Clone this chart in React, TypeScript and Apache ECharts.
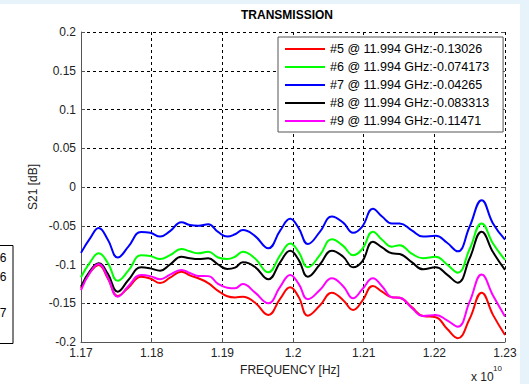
import React, { useEffect, useRef } from "react";
import * as echarts from "echarts";

// Frequency points (x 10^10 Hz)
const freqs = [
  1.17, 1.1713, 1.1725, 1.1738, 1.1752, 1.1767, 1.1785, 1.1798, 1.1812, 1.1826,
  1.1842, 1.1854, 1.1866, 1.188, 1.1894, 1.1907, 1.1918, 1.1929, 1.1946, 1.1965,
  1.1982, 1.1996, 1.2008, 1.2021, 1.2038, 1.2055, 1.2071, 1.2085, 1.2098, 1.2113,
  1.2126, 1.214, 1.2151, 1.2168, 1.2184, 1.2202, 1.2218, 1.2233, 1.225, 1.2267,
  1.2283, 1.23,
];

const s5Red = [
  -0.1307, -0.11, -0.1006, -0.118, -0.1406, -0.13, -0.1157, -0.118, -0.124, -0.117,
  -0.1093, -0.114, -0.1178, -0.124, -0.134, -0.141, -0.1425, -0.1415, -0.149, -0.165,
  -0.144, -0.1294, -0.142, -0.166, -0.153, -0.1363, -0.146, -0.1587, -0.147, -0.1277,
  -0.135, -0.1423, -0.143, -0.155, -0.1665, -0.168, -0.183, -0.195, -0.17, -0.1363,
  -0.165, -0.191,
];

const s6Green = [
  -0.1165, -0.097, -0.0856, -0.098, -0.121, -0.108, -0.088, -0.089, -0.093, -0.088,
  -0.08, -0.083, -0.0856, -0.0835, -0.091, -0.093, -0.09, -0.0835, -0.092, -0.11,
  -0.088, -0.073, -0.084, -0.1036, -0.088, -0.0675, -0.076, -0.088, -0.08, -0.0577,
  -0.068, -0.077, -0.075, -0.086, -0.092, -0.09, -0.1, -0.1105, -0.08, -0.047,
  -0.073, -0.094,
];

const s7Blue = [
  -0.085, -0.066, -0.053, -0.068, -0.091, -0.077, -0.058, -0.059, -0.064, -0.057,
  -0.0455, -0.049, -0.05, -0.048, -0.058, -0.064, -0.061, -0.0555, -0.063, -0.079,
  -0.056, -0.041, -0.053, -0.0735, -0.058, -0.038, -0.046, -0.059, -0.051, -0.028,
  -0.038, -0.047, -0.047, -0.056, -0.064, -0.063, -0.072, -0.083, -0.051, -0.017,
  -0.047, -0.068,
];

const s8Black = [
  -0.1286, -0.108, -0.0985, -0.112, -0.135, -0.12, -0.1036, -0.105, -0.108, -0.1,
  -0.09, -0.092, -0.093, -0.092, -0.1, -0.1058, -0.104, -0.0972, -0.103, -0.119,
  -0.097, -0.0822, -0.094, -0.1157, -0.1, -0.0822, -0.09, -0.1036, -0.096, -0.0706,
  -0.078, -0.0856, -0.0865, -0.097, -0.1062, -0.1036, -0.113, -0.1234, -0.092, -0.0577,
  -0.084, -0.107,
];

const s9Magenta = [
  -0.133, -0.11, -0.0994, -0.117, -0.1415, -0.128, -0.1135, -0.115, -0.119, -0.113,
  -0.107, -0.111, -0.1148, -0.115, -0.125, -0.13, -0.1307, -0.1252, -0.136, -0.15,
  -0.1285, -0.1135, -0.125, -0.1449, -0.133, -0.1178, -0.128, -0.1436, -0.132, -0.1178,
  -0.128, -0.1423, -0.143, -0.156, -0.1665, -0.1652, -0.172, -0.1802, -0.148, -0.113,
  -0.14, -0.167,
];

const seriesNames = [
  "#5 @ 11.994 GHz:-0.13026",
  "#6 @ 11.994 GHz:-0.074173",
  "#7 @ 11.994 GHz:-0.04265",
  "#8 @ 11.994 GHz:-0.083313",
  "#9 @ 11.994 GHz:-0.11471",
];
const seriesColors = ["#ff0000", "#00ff00", "#0000ff", "#000000", "#ff00ff"];
const seriesValues = [s5Red, s6Green, s7Blue, s8Black, s9Magenta];

const FONT = "'Liberation Sans', Arial, Helvetica, sans-serif";
const fmt = (v: number) => String(+(+v).toFixed(2));

export default function App() {
  const ref = useRef<HTMLDivElement>(null);
  useEffect(() => {
    if (!ref.current) return;
    const chart = echarts.init(ref.current, null, { renderer: "svg" });
    const gridLine = { show: true, lineStyle: { color: "#000", type: [3, 3] as any, width: 1 } };
    const option: any = {
      animation: false,
      backgroundColor: "#ffffff",
      grid: { left: 81, right: 24, top: 32, bottom: 42, containLabel: false },
      legend: {
        orient: "vertical",
        left: 278,
        top: 37,
        icon: "rect",
        itemWidth: 40,
        itemHeight: 2,
        itemGap: 4,
        padding: [5, 14, 4, 7],
        borderColor: "#555",
        borderWidth: 1,
        borderRadius: 0,
        backgroundColor: "#fff",
        textStyle: { fontSize: 12.5, lineHeight: 14, color: "#000", fontFamily: FONT },
        data: seriesNames,
      },
      xAxis: [
        {
          type: "value",
          min: 1.17,
          max: 1.23,
          interval: 0.01,
          axisLine: { show: true, onZero: false, lineStyle: { color: "#555", width: 1 } },
          axisTick: { show: true, inside: true, length: 4, lineStyle: { color: "#555" } },
          axisLabel: { margin: 5, fontSize: 12, color: "#222", fontFamily: FONT, formatter: fmt },
          splitLine: gridLine,
        },
        {
          type: "value",
          position: "top",
          min: 1.17,
          max: 1.23,
          interval: 0.01,
          axisLine: { show: false },
          axisTick: { show: true, inside: true, length: 4, lineStyle: { color: "#555" } },
          axisLabel: { show: false },
          splitLine: { show: false },
        },
      ],
      yAxis: [
        {
          type: "value",
          min: -0.2,
          max: 0.2,
          interval: 0.05,
          axisLine: { show: true, onZero: false, lineStyle: { color: "#555", width: 1 } },
          axisTick: { show: true, inside: true, length: 4, lineStyle: { color: "#555" } },
          axisLabel: { margin: 5, fontSize: 12, color: "#222", fontFamily: FONT, formatter: fmt },
          splitLine: gridLine,
        },
        {
          type: "value",
          position: "right",
          min: -0.2,
          max: 0.2,
          interval: 0.05,
          axisLine: { show: false },
          axisTick: { show: true, inside: true, length: 4, lineStyle: { color: "#555" } },
          axisLabel: { show: false },
          splitLine: { show: false },
        },
      ],
      series: seriesNames.map((name, i) => ({
        name,
        type: "line",
        xAxisIndex: 0,
        yAxisIndex: 0,
        symbol: "none",
        smooth: 0.45,
        lineStyle: { color: seriesColors[i], width: 2 },
        itemStyle: { color: seriesColors[i] },
        data: freqs.map((f, j) => [f, seriesValues[i][j]]),
      })),
      graphic: [
        { type: "rect", shape: { x: 0, y: 0, width: 529, height: 4 }, style: { fill: "#e6f3fb" }, silent: true },
        { type: "rect", shape: { x: 520, y: 0, width: 9, height: 384 }, style: { fill: "#e6f3fb" }, silent: true },
        {
          type: "rect",
          shape: { x: -20, y: 245.5, width: 33, height: 98 },
          style: { fill: "#fff", stroke: "#000", lineWidth: 1 },
          silent: true,
        },
        { type: "text", x: 6.5, y: 258, style: { text: "6", fontSize: 12, fontFamily: FONT, fill: "#000", align: "right", verticalAlign: "middle" } },
        { type: "text", x: 6.5, y: 277, style: { text: "6", fontSize: 12, fontFamily: FONT, fill: "#000", align: "right", verticalAlign: "middle" } },
        { type: "text", x: 6.5, y: 313, style: { text: "7", fontSize: 12, fontFamily: FONT, fill: "#000", align: "right", verticalAlign: "middle" } },
        {
          type: "text",
          x: 287,
          y: 15,
          style: { text: "TRANSMISSION", fontSize: 12, fontWeight: "bold", fontFamily: FONT, fill: "#000", align: "center", verticalAlign: "middle" },
        },
        {
          type: "text",
          x: 33,
          y: 187,
          rotation: Math.PI / 2,
          style: { text: "S21 [dB]", fontSize: 12, fontFamily: FONT, fill: "#222", align: "center", verticalAlign: "middle" },
        },
        {
          type: "text",
          x: 290,
          y: 370,
          style: { text: "FREQUENCY [Hz]", fontSize: 12, fontFamily: FONT, fill: "#222", align: "center", verticalAlign: "middle" },
        },
        {
          type: "text",
          x: 471,
          y: 376.5,
          style: { text: "x 10", fontSize: 12, fontFamily: FONT, fill: "#222", align: "left", verticalAlign: "middle" },
        },
        {
          type: "text",
          x: 493,
          y: 368,
          style: { text: "10", fontSize: 8, fontFamily: FONT, fill: "#222", align: "left", verticalAlign: "middle" },
        },
      ],
    };
    chart.setOption(option);
    return () => chart.dispose();
  }, []);
  return (
    <div
      ref={ref}
      style={{ position: "fixed", left: 0, top: 0, width: 529, height: 384 }}
    />
  );
}
